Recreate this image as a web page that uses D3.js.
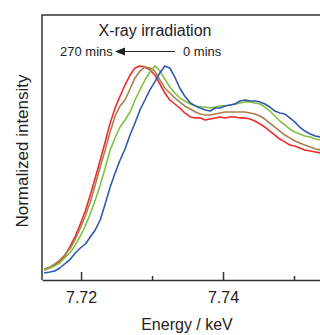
<!DOCTYPE html>
<html>
<head>
<meta charset="utf-8">
<script src="https://cdn.jsdelivr.net/npm/d3@7"></script>
<style>
body { margin: 0; background: #fff; }
text { font-family: "Liberation Sans", Arial, sans-serif; fill: #222; }
</style>
</head>
<body>
<script>
var width = 320,
	height = 335;

// energy grid, keV
var energies = [7.7148, 7.7156, 7.7163, 7.7170, 7.7177, 7.7185, 7.7192, 7.7199, 7.7206, 7.7213,
	7.7220, 7.7227, 7.7234, 7.7241, 7.7248, 7.7255, 7.7262, 7.7269, 7.7276, 7.7283,
	7.7290, 7.7297, 7.7304, 7.7311, 7.7318, 7.7325, 7.7332, 7.7339, 7.7346, 7.7354,
	7.7361, 7.7368, 7.7375, 7.7382, 7.7389, 7.7396, 7.7403, 7.7410, 7.7417, 7.7424,
	7.7431, 7.7438, 7.7445, 7.7452, 7.7459, 7.7466, 7.7473, 7.7480, 7.7487, 7.7494,
	7.7501, 7.7508, 7.7515, 7.7523, 7.7530, 7.7537];

// normalized intensity per irradiation time
var blue0 = [-0.006, 0, 0.006, 0.025, 0.050, 0.081, 0.119, 0.150, 0.175, 0.219,
	0.263, 0.325, 0.425, 0.531, 0.619, 0.700, 0.769, 0.856, 0.931, 1.013,
	1.075, 1.138, 1.188, 1.244, 1.288, 1.275, 1.219, 1.150, 1.100, 1.056,
	1.038, 1.025, 1.013, 1.006, 1.025, 1.025, 1.038, 1.044, 1.050, 1.069,
	1.075, 1.069, 1.069, 1.063, 1.050, 1.031, 1.006, 0.994, 0.988, 0.963,
	0.938, 0.906, 0.881, 0.863, 0.850, 0.844];

var green = [0.013, 0.025, 0.038, 0.056, 0.088, 0.125, 0.169, 0.225, 0.288, 0.363,
	0.450, 0.544, 0.650, 0.763, 0.838, 0.906, 0.950, 1.000, 1.075, 1.138,
	1.200, 1.250, 1.288, 1.256, 1.206, 1.156, 1.119, 1.088, 1.069, 1.050,
	1.038, 1.031, 1.031, 1.025, 1.031, 1.038, 1.038, 1.044, 1.050, 1.056,
	1.063, 1.063, 1.056, 1.050, 1.031, 1.006, 0.975, 0.944, 0.919, 0.894,
	0.875, 0.863, 0.850, 0.844, 0.831, 0.825];

var brown = [0.019, 0.031, 0.050, 0.075, 0.106, 0.150, 0.206, 0.275, 0.350, 0.438,
	0.544, 0.656, 0.763, 0.875, 0.975, 1.038, 1.075, 1.144, 1.213, 1.256,
	1.281, 1.275, 1.256, 1.200, 1.150, 1.119, 1.088, 1.063, 1.038, 1.019,
	1.000, 0.988, 0.981, 0.981, 0.988, 0.994, 1.000, 1.000, 1.000, 1.000,
	1.000, 0.994, 0.988, 0.975, 0.956, 0.931, 0.906, 0.881, 0.856, 0.838,
	0.819, 0.806, 0.794, 0.781, 0.769, 0.763];

var red270 = [0.013, 0.025, 0.044, 0.069, 0.100, 0.163, 0.225, 0.300, 0.381, 0.481,
	0.588, 0.700, 0.813, 0.931, 1.025, 1.100, 1.169, 1.231, 1.275, 1.288,
	1.281, 1.263, 1.231, 1.175, 1.119, 1.075, 1.050, 1.025, 0.994, 0.969,
	0.963, 0.963, 0.950, 0.956, 0.963, 0.969, 0.963, 0.969, 0.969, 0.963,
	0.963, 0.956, 0.944, 0.925, 0.906, 0.881, 0.856, 0.831, 0.813, 0.794,
	0.788, 0.775, 0.763, 0.756, 0.750, 0.744];

var series = [
	{ name: '0 mins', values: blue0, color: '#2f5aab' },
	{ name: 'green', values: green, color: '#80c241' },
	{ name: 'brown', values: brown, color: '#a97e4e' },
	{ name: '270 mins', values: red270, color: '#ee2a2d' }
];

var majorTicks = [7.72, 7.74],
	minorTicks = [7.73, 7.75];

var plot = { left: 42, top: 15, right: 322.4, bottom: 280 };

var x = d3.scaleLinear()
	.domain([7.7145, 7.754])
	.range([plot.left, plot.right]);

var y = d3.scaleLinear()
	.domain([-0.05, 1.6])
	.range([plot.bottom, plot.top + 1]);

var svg = d3.select('body')
	.append('svg')
	.attr('width', width)
	.attr('height', height);

svg.append('clipPath')
	.attr('id', 'clip')
	.append('rect')
	.attr('x', plot.left + 1)
	.attr('y', plot.top + 1)
	.attr('width', plot.right - plot.left)
	.attr('height', plot.bottom - plot.top - 2);

var line = d3.line()
	.x(function(d, i) { return x(energies[i]); })
	.y(function(d) { return y(d); });

// draw blue last so the 0 mins curve sits on top like in the figure
svg.append('g')
	.attr('clip-path', 'url(#clip)')
	.selectAll('path')
	.data(series.slice().reverse())
	.enter()
	.append('path')
	.attr('d', function(d) { return line(d.values); })
	.attr('fill', 'none')
	.attr('stroke', function(d) { return d.color; })
	.attr('stroke-width', 1.6)
	.attr('stroke-linejoin', 'round');

// frame: left and top
svg.append('path')
	.attr('d', 'M' + plot.left + ',' + plot.bottom + 'V' + plot.top + 'H' + width)
	.attr('fill', 'none')
	.attr('stroke', '#333')
	.attr('stroke-width', 1.5);

var xAxis = svg.append('g')
	.attr('transform', 'translate(0,' + plot.bottom + ')')
	.call(d3.axisBottom(x)
		.tickValues(majorTicks)
		.tickSize(-8)
		.tickSizeOuter(0)
		.tickPadding(18)
		.tickFormat(d3.format('.2f')));

svg.append('g')
	.attr('transform', 'translate(0,' + plot.bottom + ')')
	.call(d3.axisBottom(x)
		.tickValues(minorTicks)
		.tickSize(-4)
		.tickSizeOuter(0)
		.tickFormat(''))
	.select('.domain').remove();

svg.selectAll('.tick line, .domain')
	.attr('stroke', '#333')
	.attr('stroke-width', 1.5);

xAxis.selectAll('.tick text')
	.attr('font-size', 16)
	.attr('font-family', '"Liberation Sans", Arial, sans-serif')
	.attr('fill', '#222')
	.attr('y', 12)
	.attr('dy', '0.71em');

svg.append('text')
	.attr('x', 187)
	.attr('y', 330)
	.attr('text-anchor', 'middle')
	.attr('font-size', 16)
	.text('Energy / keV');

svg.append('text')
	.attr('transform', 'translate(28,151) rotate(-90)')
	.attr('text-anchor', 'middle')
	.attr('font-size', 17)
	.text('Normalized intensity');

svg.append('text')
	.attr('x', 155)
	.attr('y', 36)
	.attr('text-anchor', 'middle')
	.attr('font-size', 16)
	.text('X-ray irradiation');

// time arrow
svg.append('text')
	.attr('x', 60)
	.attr('y', 56)
	.attr('font-size', 13)
	.text('270 mins');

svg.append('text')
	.attr('x', 183)
	.attr('y', 56)
	.attr('font-size', 13)
	.text('0 mins');

svg.append('line')
	.attr('x1', 122)
	.attr('x2', 175)
	.attr('y1', 51.5)
	.attr('y2', 51.5)
	.attr('stroke', '#222')
	.attr('stroke-width', 1);

svg.append('path')
	.attr('d', 'M115,51.5L125,47.5L125,55.5Z')
	.attr('fill', '#222');
</script>
</body>
</html>
